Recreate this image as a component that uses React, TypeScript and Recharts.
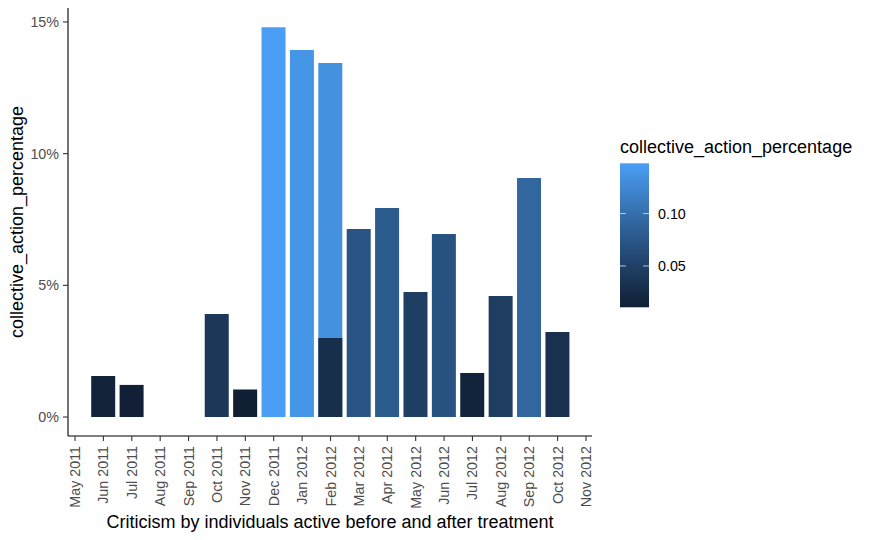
import React from 'react';
import { BarChart, Bar, XAxis, YAxis, Cell, Customized } from 'recharts';

// ---- data ----
const monthLabels = [
  'May 2011', 'Jun 2011', 'Jul 2011', 'Aug 2011', 'Sep 2011', 'Oct 2011', 'Nov 2011',
  'Dec 2011', 'Jan 2012', 'Feb 2012', 'Mar 2012', 'Apr 2012', 'May 2012', 'Jun 2012',
  'Jul 2012', 'Aug 2012', 'Sep 2012', 'Oct 2012', 'Nov 2012',
];
const barMonths = [
  'Jun 2011', 'Jul 2011', 'Oct 2011', 'Nov 2011', 'Dec 2011', 'Jan 2012', 'Feb 2012',
  'Mar 2012', 'Apr 2012', 'May 2012', 'Jun 2012', 'Jul 2012', 'Aug 2012', 'Sep 2012', 'Oct 2012',
];
const percentValues = [1.56, 1.22, 3.91, 1.05, 14.8, 13.94, 13.44, 7.14, 7.94, 4.75, 6.95, 1.67, 4.6, 9.08, 3.23];
const overlayMonths = ['Feb 2012'];
const overlayValues = [3.0];
const yTicks = [0, 5, 10, 15];
const legendTicks = [0.05, 0.1];

const xTitle = 'Criticism by individuals active before and after treatment';
const yTitle = 'collective_action_percentage';
const legendTitle = 'collective_action_percentage';

// ---- colour scale (gradient, Lab interpolation) ----
const LOW = '#101F34';
const HIGH = '#4A9FF5';
const Wn = [0.95047, 1.0, 1.08883];
function hexToRgb(h: string) {
  return [1, 3, 5].map((i) => parseInt(h.slice(i, i + 2), 16) / 255);
}
const lin = (c: number) => (c <= 0.04045 ? c / 12.92 : Math.pow((c + 0.055) / 1.055, 2.4));
const unlin = (c: number) => (c <= 0.0031308 ? 12.92 * c : 1.055 * Math.pow(c, 1 / 2.4) - 0.055);
function rgbToLab(rgb: number[]) {
  const [r, g, b] = rgb.map(lin);
  const X = r * 0.4124 + g * 0.3576 + b * 0.1805;
  const Y = r * 0.2126 + g * 0.7152 + b * 0.0722;
  const Z = r * 0.0193 + g * 0.1192 + b * 0.9505;
  const f = (t: number) => (t > 0.008856 ? Math.cbrt(t) : 7.787 * t + 16 / 116);
  const fx = f(X / Wn[0]), fy = f(Y / Wn[1]), fz = f(Z / Wn[2]);
  return [116 * fy - 16, 500 * (fx - fy), 200 * (fy - fz)];
}
function labToHex(lab: number[]) {
  const fy = (lab[0] + 16) / 116;
  const fx = fy + lab[1] / 500;
  const fz = fy - lab[2] / 200;
  const inv = (t: number) => (t * t * t > 0.008856 ? t * t * t : (t - 16 / 116) / 7.787);
  const X = inv(fx) * Wn[0], Y = inv(fy) * Wn[1], Z = inv(fz) * Wn[2];
  const r = X * 3.2406 + Y * -1.5372 + Z * -0.4986;
  const g = X * -0.9689 + Y * 1.8758 + Z * 0.0415;
  const b = X * 0.0557 + Y * -0.204 + Z * 1.057;
  return (
    '#' +
    [r, g, b]
      .map((c) => Math.round(Math.min(1, Math.max(0, unlin(c))) * 255).toString(16).padStart(2, '0'))
      .join('')
  );
}
const labLow = rgbToLab(hexToRgb(LOW));
const labHigh = rgbToLab(hexToRgb(HIGH));
const allValues = [...percentValues, ...overlayValues];
const vMin = Math.min(...allValues) / 100;
const vMax = Math.max(...allValues) / 100;
function colorFor(v: number) {
  const t = Math.min(1, Math.max(0, (v - vMin) / (vMax - vMin)));
  return labToHex(labLow.map((l, i) => l + (labHigh[i] - l) * t));
}

// ---- table for recharts ----
const data = barMonths.map((m, i) => {
  const oi = overlayMonths.indexOf(m);
  return {
    x: monthLabels.indexOf(m),
    value: percentValues[i],
    overlay: oi >= 0 ? overlayValues[oi] : null,
  };
});

const FONT = '"Liberation Sans", Arial, Helvetica, sans-serif';

const XTick = (props: any) => {
  const { x, y, payload } = props;
  return (
    <text
      x={x}
      y={y}
      transform={`rotate(-90 ${x} ${y})`}
      textAnchor="end"
      dominantBaseline="central"
      fill="#4D4D4D"
      fontSize={14.3}
      fontFamily={FONT}
    >
      {monthLabels[payload.value]}
    </text>
  );
};

const YTick = (props: any) => {
  const { x, y, payload } = props;
  return (
    <text x={x} y={y} textAnchor="end" dominantBaseline="central" fill="#4D4D4D" fontSize={14.3} fontFamily={FONT}>
      {`${payload.value}%`}
    </text>
  );
};

const Extras = () => {
  const barX = 620, barY = 163.3, barW = 29, barH = 144;
  const stops = Array.from({ length: 31 }, (_, i) => i / 30);
  const yOf = (v: number) => barY + ((vMax - v) / (vMax - vMin)) * barH;
  return (
    <g fontFamily={FONT}>
      <text x={330} y={528} textAnchor="middle" fontSize={18} fill="#000">
        {xTitle}
      </text>
      <text x={22.5} y={222} transform="rotate(-90 22.5 222)" textAnchor="middle" fontSize={18} fill="#000">
        {yTitle}
      </text>
      <text x={620} y={152.7} fontSize={18} fill="#000">
        {legendTitle}
      </text>
      <defs>
        <linearGradient id="cbar" x1="0" y1="1" x2="0" y2="0">
          {stops.map((s) => (
            <stop key={s} offset={`${s * 100}%`} stopColor={colorFor(vMin + s * (vMax - vMin))} />
          ))}
        </linearGradient>
      </defs>
      <rect x={barX} y={barY} width={barW} height={barH} fill="url(#cbar)" />
      {legendTicks.map((t) => (
        <g key={t}>
          <line x1={barX} x2={barX + 5.8} y1={yOf(t)} y2={yOf(t)} stroke="#FFFFFF" strokeOpacity={0.7} strokeWidth={1} />
          <line x1={barX + barW - 5.8} x2={barX + barW} y1={yOf(t)} y2={yOf(t)} stroke="#FFFFFF" strokeOpacity={0.7} strokeWidth={1} />
          <text x={658} y={yOf(t)} dominantBaseline="central" fontSize={14.3} fill="#000">
            {t.toFixed(2)}
          </text>
        </g>
      ))}
    </g>
  );
};

export default function App() {
  return (
    <div style={{ position: 'absolute', left: 0, top: 0, width: 875, height: 540, background: '#fff' }}>
      <BarChart
        width={875}
        height={540}
        data={data}
        margin={{ top: 8, right: 283, bottom: 0, left: 0 }}
        barGap={-24}
        barSize={24}
      >
        <XAxis
          dataKey="x"
          type="number"
          domain={[-0.2466, 18.211]}
          ticks={monthLabels.map((_, i) => i)}
          interval={0}
          height={104}
          tick={<XTick />}
          tickSize={5}
          tickMargin={5}
          axisLine={{ stroke: '#000', strokeWidth: 1.1 }}
          tickLine={{ stroke: '#333', strokeWidth: 1.1 }}
          allowDataOverflow
        />
        <YAxis
          type="number"
          domain={[-0.72, 15.53]}
          ticks={yTicks}
          width={68}
          tick={<YTick />}
          tickSize={5}
          tickMargin={4}
          axisLine={{ stroke: '#000', strokeWidth: 1.1 }}
          tickLine={{ stroke: '#333', strokeWidth: 1.1 }}
          allowDataOverflow
        />
        <Bar dataKey="value" isAnimationActive={false}>
          {data.map((d, i) => (
            <Cell key={i} fill={colorFor(d.value / 100)} />
          ))}
        </Bar>
        <Bar dataKey="overlay" isAnimationActive={false}>
          {data.map((d, i) => (
            <Cell key={i} fill={d.overlay == null ? 'none' : colorFor(d.overlay / 100)} />
          ))}
        </Bar>
        <Customized component={<Extras />} />
      </BarChart>
    </div>
  );
}
